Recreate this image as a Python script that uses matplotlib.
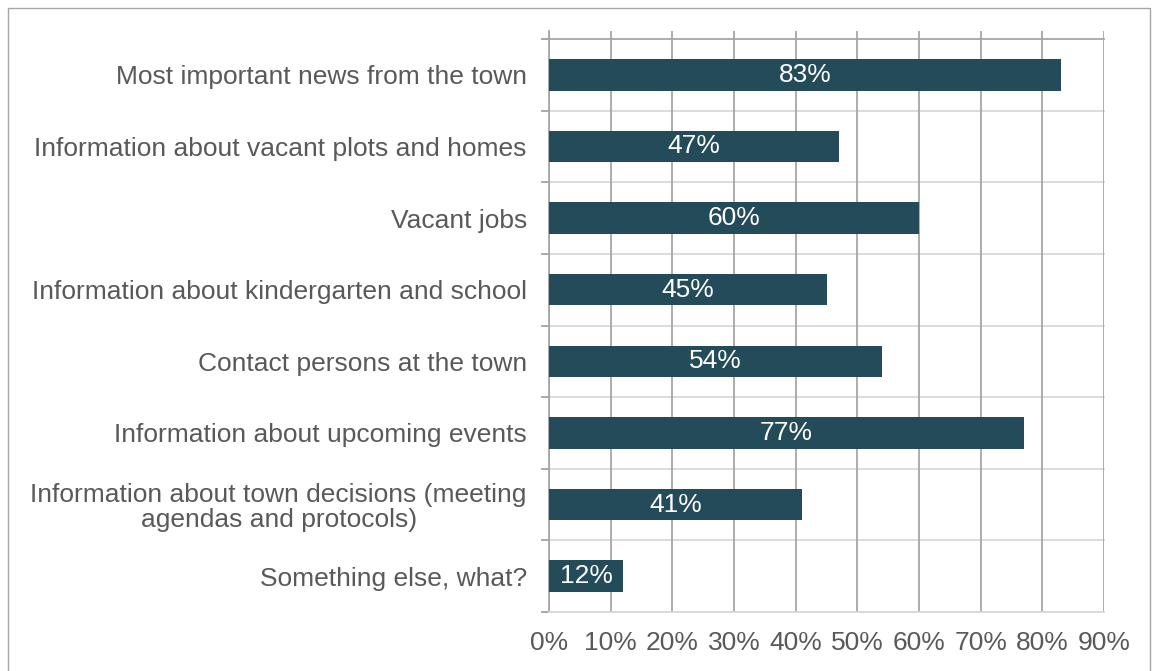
import numpy as np
import matplotlib.pyplot as plt
from matplotlib.patches import Rectangle

plt.rcParams['font.family'] = ['Liberation Sans', 'DejaVu Sans']

categories = ["Most important news from the town",
              "Information about vacant plots and homes",
              "Vacant jobs",
              "Information about kindergarten and school",
              "Contact persons at the town",
              "Information about upcoming events",
              "Information about town decisions (meeting\nagendas and protocols)",
              "Something else, what?"]
values = [83, 47, 60, 45, 54, 77, 41, 12]
xticks = [0, 10, 20, 30, 40, 50, 60, 70, 80, 90]

W, H = 1158, 671
fig = plt.figure(figsize=(W / 100, H / 100), dpi=100)
ax = fig.add_axes([549 / W, 1 - 612 / H, (1104 - 549) / W, (612 - 31) / H])

fs = 19
pos = np.arange(len(categories))
ax.barh(pos, values, height=0.44, color='#234B5A', zorder=3)
for p, v in zip(pos, values):
    ax.text(v / 2, p, f"{v}%", color='white', ha='center', va='center',
            fontsize=fs, zorder=4)

ax.set_xlim(0, 90)
ax.set_ylim(len(categories) - 0.5, -0.5 - 8 / 71.6)
ax.set_xticks(xticks)
ax.set_xticklabels([f"{t}%" for t in xticks])
ax.set_yticks(pos)
ax.set_yticklabels(categories, linespacing=1.05)
ax.tick_params(axis='both', length=0, labelsize=fs, labelcolor='#595959')
ax.tick_params(axis='x', pad=14)
ax.tick_params(axis='y', pad=16)
for lbl in ax.get_yticklabels():
    lbl.set_horizontalalignment('right')
    lbl.set_multialignment('center')

# vertical gridlines
ax.grid(axis='x', color='#a6a6a6', linewidth=1.3, zorder=0)
# category separators with small ticks to the left
for b in np.arange(-0.5, len(categories) + 0.5, 1):
    col = '#a6a6a6' if b == -0.5 else '#d9d9d9'
    ax.plot([-1.2, 90], [b, b], color=col, linewidth=1.3, clip_on=False, zorder=1)
    ax.plot([-1.2, 0], [b, b], color='#a6a6a6', linewidth=1.3, clip_on=False, zorder=1)

for s in ['top', 'right']:
    ax.spines[s].set_visible(False)
ax.spines['left'].set_color('#a6a6a6')
ax.spines['left'].set_linewidth(1.3)
ax.spines['bottom'].set_color('#d9d9d9')
ax.spines['bottom'].set_linewidth(1.3)

fig.patches.append(Rectangle((8 / W, -0.01), (1150 - 8) / W, 1 - 8 / H + 0.01,
                             transform=fig.transFigure, fill=False,
                             edgecolor='#a6a6a6', linewidth=1.0))

fig.savefig('out.png', dpi=100)
